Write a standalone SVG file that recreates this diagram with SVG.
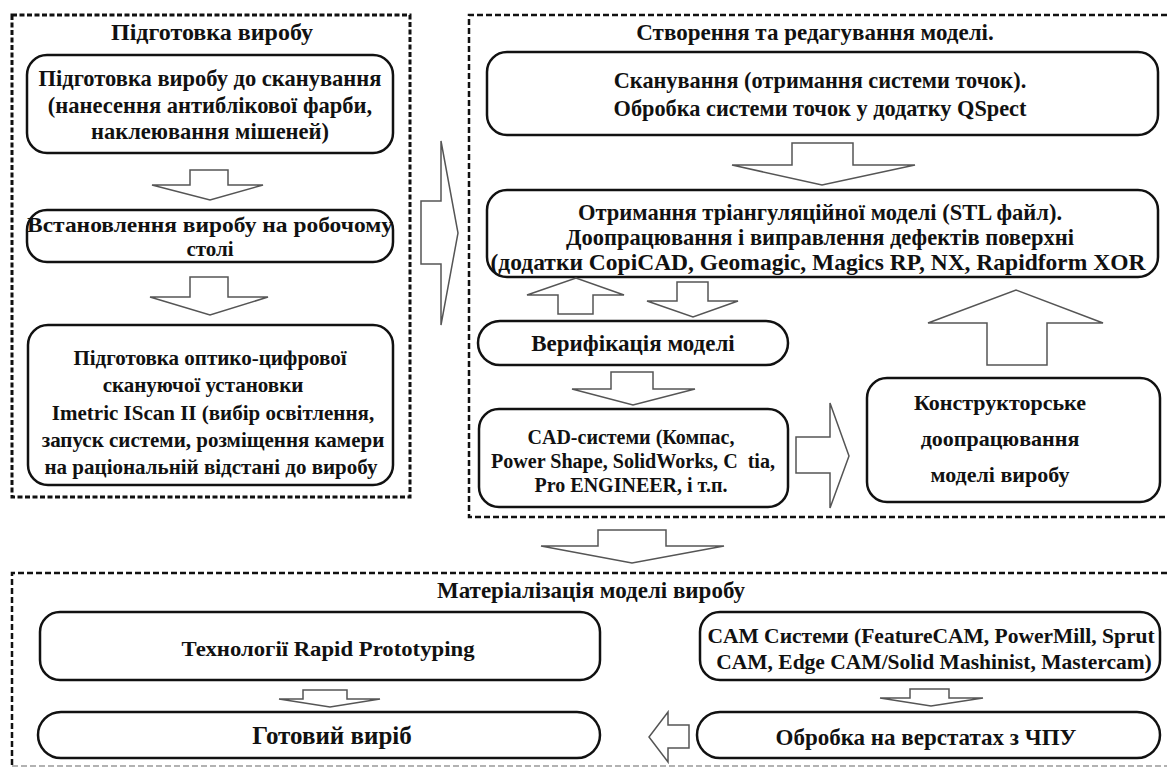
<svg xmlns="http://www.w3.org/2000/svg" width="1167" height="769" viewBox="0 0 1167 769">
<style>
.bg{fill:#fff}
.panel{fill:none;stroke:#111;stroke-width:3;stroke-dasharray:5 2.5}
.panel2{fill:none;stroke:#111;stroke-width:2.5;stroke-dasharray:6 3}
.panelLight{fill:none;stroke:#999;stroke-width:1.5;stroke-dasharray:6 3}
.box{fill:#fff;stroke:#111;stroke-width:2.5}
.arr{fill:#fff;stroke:#555;stroke-width:1.5;stroke-linejoin:miter}
text{font-family:"Liberation Serif","Times New Roman",serif;font-weight:bold;fill:#111;text-anchor:middle}
.h{font-size:23px}
</style>
<rect class="bg" x="0" y="0" width="1167" height="769"/>

<g id="panel-prep">
<rect class="panel" x="12" y="15" width="398" height="482"/>
<text class="h" x="212" y="40" style="font-size:24px">Підготовка виробу</text>
</g>
<g id="panel-model">
<path class="panel2" d="M1167,15 H469 V517 H1167"/>
<text class="h" x="815" y="40">Створення та редагування моделі.</text>
</g>
<g id="panel-mat">
<path class="panel2" d="M1167,573 H12 V766"/>
<path class="panelLight" d="M12,766 H1167"/>
<text class="h" x="591" y="598">Матеріалізація моделі виробу</text>
</g>

<g id="node-prep-scan" style="font-size:22.5px">
<rect class="box" x="27" y="55" width="366" height="98" rx="20"/>
<text x="210" y="86">Підготовка виробу до сканування</text>
<text x="210" y="113">(нанесення антиблікової фарби,</text>
<text x="210" y="139">наклеювання мішеней)</text>
</g>
<g id="node-install" style="font-size:21px">
<rect class="box" x="27" y="210" width="366" height="52" rx="20"/>
<text x="210" y="232" textLength="366" lengthAdjust="spacingAndGlyphs">Встановлення виробу на робочому</text>
<text x="210" y="256">столі</text>
</g>
<g id="node-setup" style="font-size:21px">
<rect class="box" x="28" y="325" width="365" height="160" rx="20"/>
<text x="210" y="365">Підготовка оптико-цифрової</text>
<text x="203" y="392">скануючої установки</text>
<text x="213" y="420">Imetric IScan II (вибір освітлення,</text>
<text x="213" y="447">запуск системи, розміщення камери</text>
<text x="211" y="474">на раціональній відстані до виробу</text>
</g>

<g id="node-scan" style="font-size:22.3px">
<rect class="box" x="487" y="52" width="671" height="83" rx="20"/>
<text x="820" y="88">Сканування (отримання системи точок).</text>
<text x="820" y="116">Обробка системи точок у додатку QSpect</text>
</g>
<g id="node-stl" style="font-size:22.5px">
<rect class="box" x="487" y="190" width="671" height="87" rx="20"/>
<text x="820" y="220">Отримання тріангуляційної моделі (STL файл).</text>
<text x="820" y="245">Доопрацювання і виправлення дефектів поверхні</text>
<text x="818" y="270" style="font-size:23.5px">(додатки CopiCAD, Geomagic, Magics RP, NX, Rapidform XOR</text>
</g>
<g id="node-verif" style="font-size:23px">
<rect class="box" x="478" y="321" width="310" height="44" rx="22"/>
<text x="633" y="351">Верифікація моделі</text>
</g>
<g id="node-cad" style="font-size:20px">
<rect class="box" x="479" y="409" width="309" height="98" rx="20"/>
<text x="631" y="444">CAD-системи (Компас,</text>
<text x="633" y="468" xml:space="preserve" textLength="284" lengthAdjust="spacingAndGlyphs">Power Shape, SolidWorks, C  tia,</text>
<text x="631" y="492">Pro ENGINEER, і т.п.</text>
</g>
<g id="node-design" style="font-size:22px">
<rect class="box" x="867" y="378" width="293" height="124" rx="20"/>
<text x="1000" y="410">Конструкторське</text>
<text x="1000" y="446">доопрацювання</text>
<text x="1000" y="482">моделі виробу</text>
</g>

<g id="node-rp" style="font-size:22px">
<rect class="box" x="40" y="612" width="560" height="68" rx="20"/>
<text x="328" y="656" textLength="293" lengthAdjust="spacingAndGlyphs">Технології Rapid Prototyping</text>
</g>
<g id="node-done" style="font-size:25px">
<rect class="box" x="38" y="712" width="562" height="46" rx="23"/>
<text x="332" y="744">Готовий виріб</text>
</g>
<g id="node-cam" style="font-size:21.5px">
<rect class="box" x="700" y="612" width="460" height="68" rx="20"/>
<text x="931" y="643">CAM Системи (FeatureCAM, PowerMill, Sprut</text>
<text x="934" y="669">CAM, Edge CAM/Solid Mashinist, Mastercam)</text>
</g>
<g id="node-cnc" style="font-size:23px">
<rect class="box" x="697" y="712" width="463" height="46" rx="23"/>
<text x="926" y="745">Обробка на верстатах з ЧПУ</text>
</g>

<g id="connectors">
<polygon class="arr" points="190,170 228,170 228,185 263,185 210,200 152,185 190,185"/>
<polygon class="arr" points="190,277 228,277 228,297 268,297 210,315 150,297 190,297"/>
<polygon class="arr" points="421,201 441,201 441,141 458,233 441,325 441,264 421,264"/>
<polygon class="arr" points="792,143 853,143 853,165 915,165 822,185 732,165 792,165"/>
<polygon class="arr" points="558,314 593,314 593,295 624,295 576,278 527,295 558,295"/>
<polygon class="arr" points="677,282 708,282 708,301 738,301 693,317 647,301 677,301"/>
<polygon class="arr" points="611,372 653,372 653,389 695,389 633,405 572,389 611,389"/>
<polygon class="arr" points="796,437 830,437 830,403 849,456 830,508 830,473 796,473"/>
<polygon class="arr" points="987,365 1047,365 1047,323 1103,323 1016,290 928,323 987,323"/>
<polygon class="arr" points="598,530 666,530 666,546 724,546 632,563 541,546 598,546"/>
<polygon class="arr" points="303,690 347,690 347,699 380,699 330,707 279,699 303,699"/>
<polygon class="arr" points="910,689 949,689 949,698 983,698 931,706 880,698 910,698"/>
<polygon class="arr" points="689,725 668,725 668,712 649,737 668,762 668,748 689,748"/>
</g>
</svg>
